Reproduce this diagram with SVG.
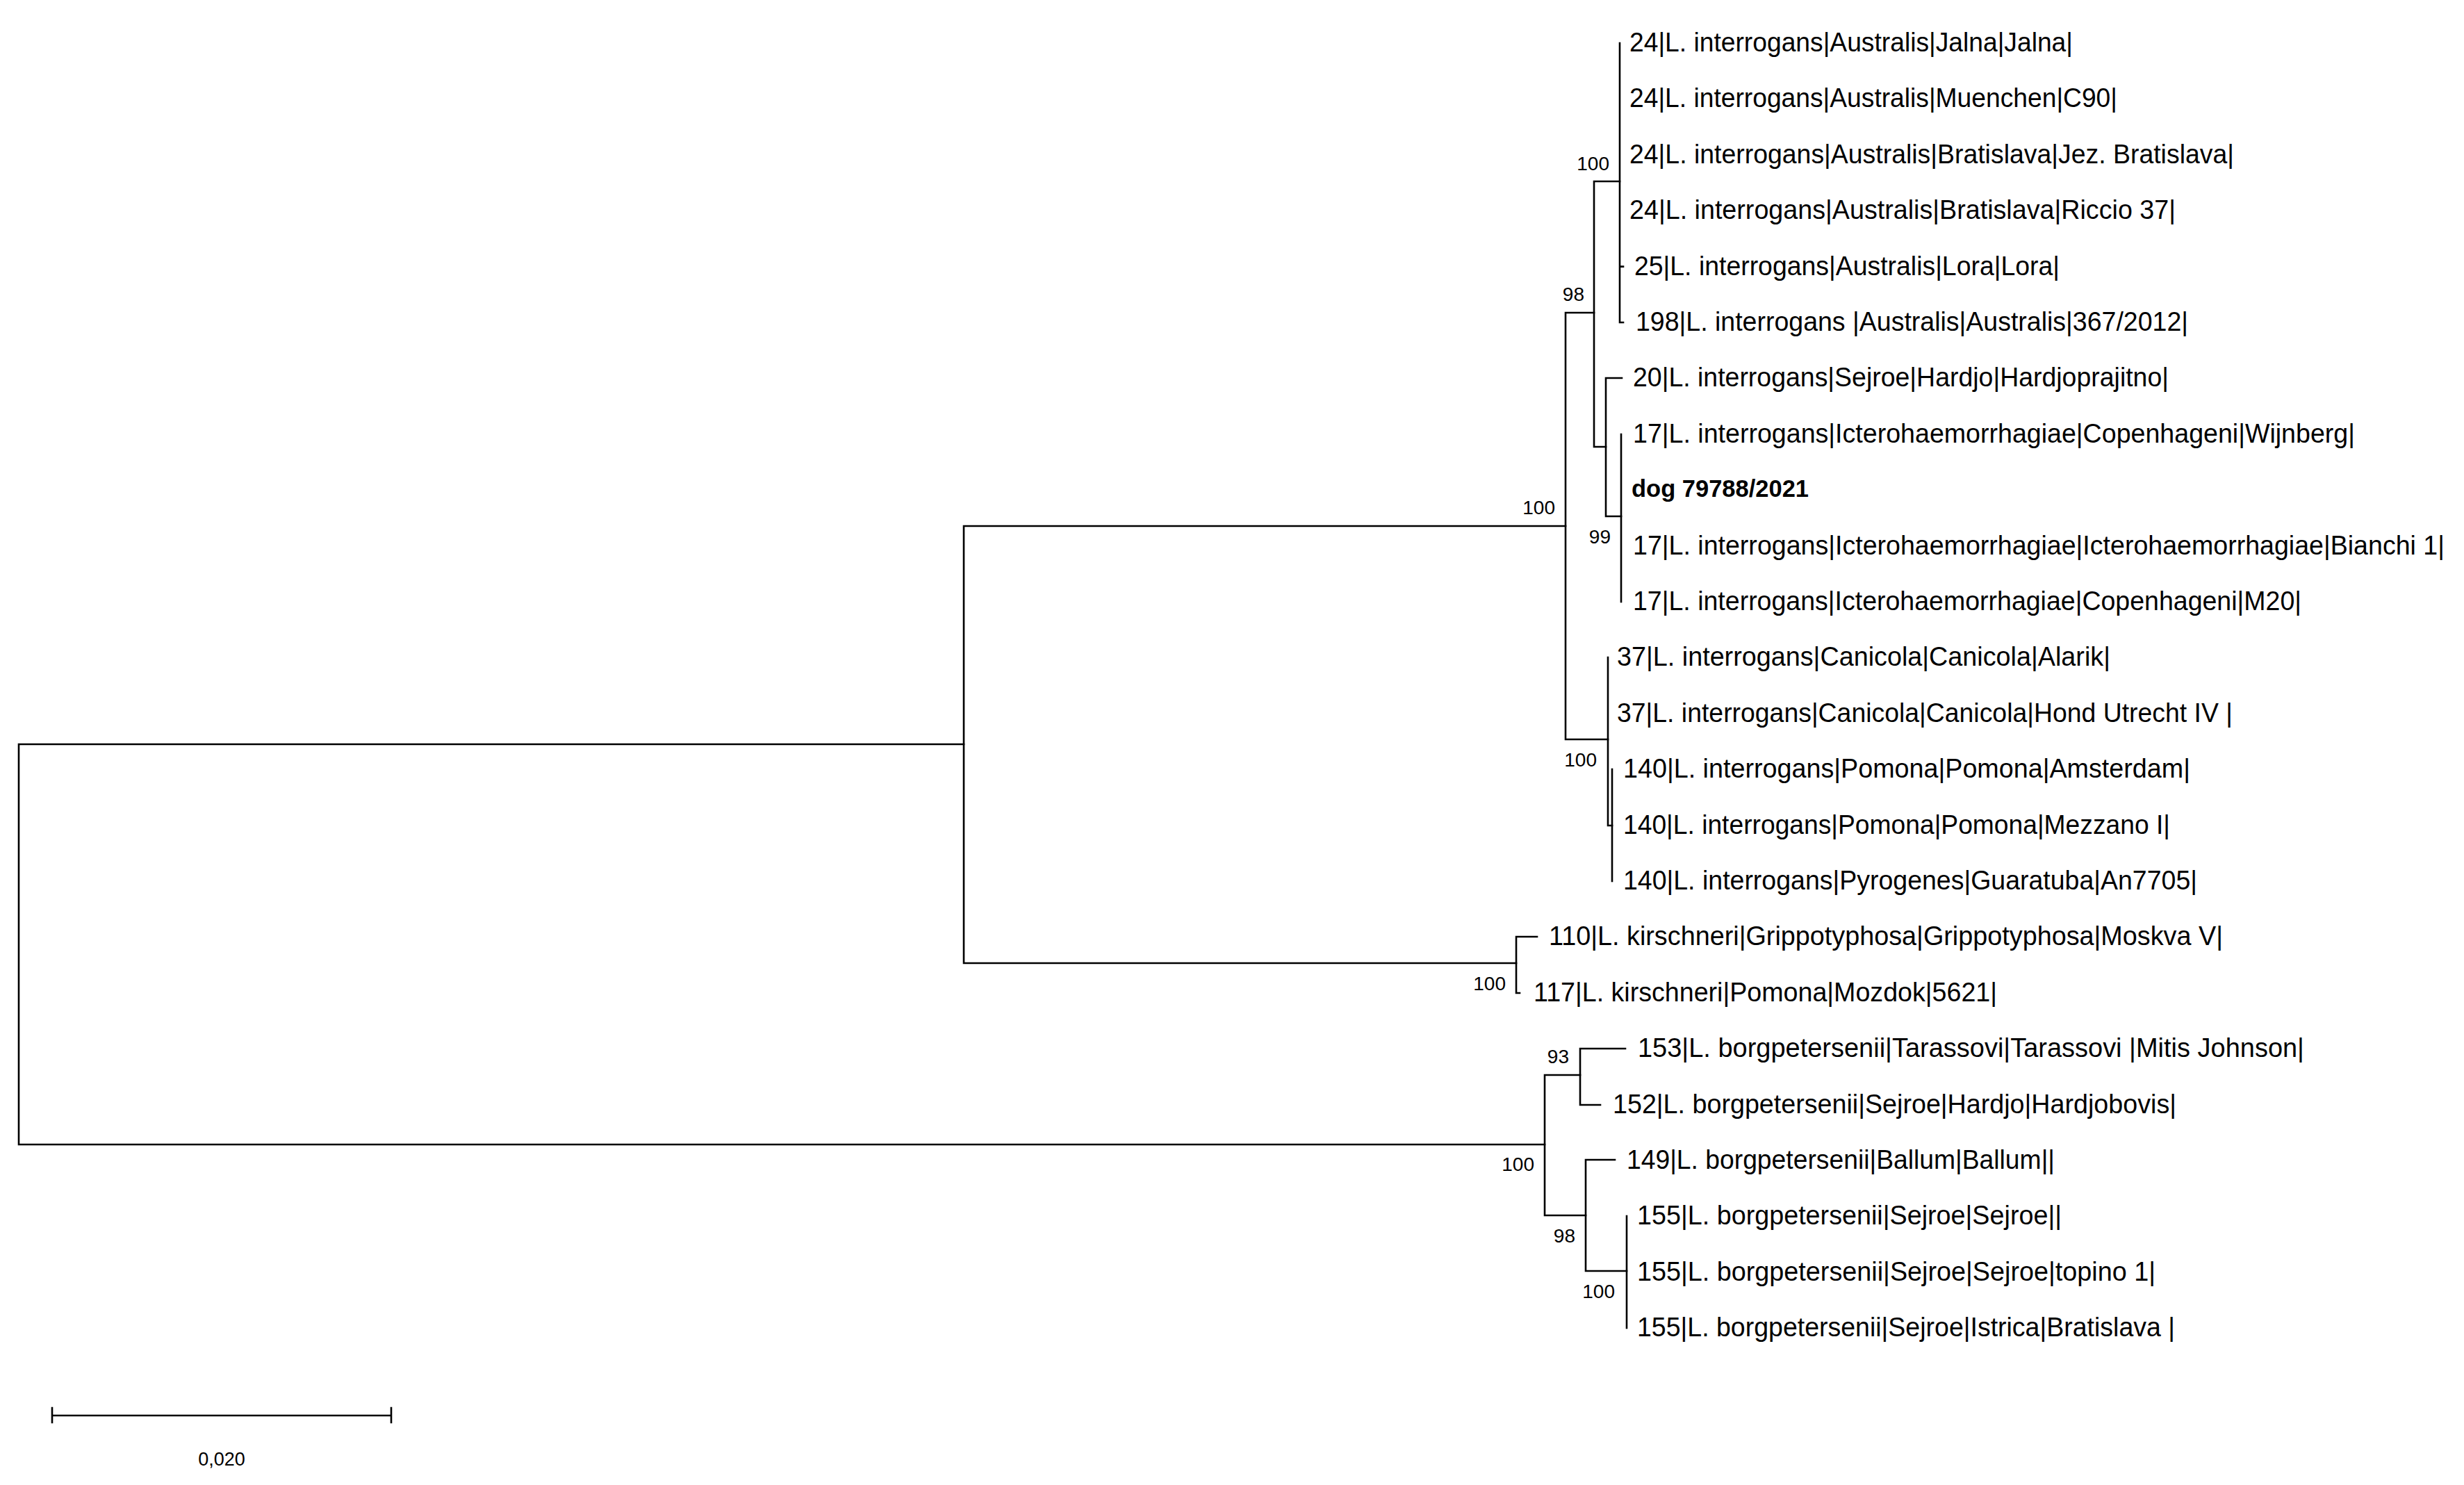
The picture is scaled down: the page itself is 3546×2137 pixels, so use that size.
<svg xmlns="http://www.w3.org/2000/svg" width="3546" height="2137" viewBox="0 0 3546 2137">
<style>
.lbl{font-family:"Liberation Sans",Arial,sans-serif;font-size:38px;fill:#000}
.bold{font-family:"Liberation Sans",Arial,sans-serif;font-size:35px;font-weight:bold;fill:#000}
.bs{font-family:"Liberation Sans",Arial,sans-serif;font-size:28px;fill:#000;text-anchor:end}
.scl{font-family:"Liberation Sans",Arial,sans-serif;font-size:27px;fill:#000;text-anchor:middle}
.br{fill:none;stroke:#000;stroke-width:2.6;stroke-linecap:square}
</style>
<rect width="3546" height="2137" fill="#fff"/>
<g id="connectors">
<path class="br" d="M27,1071 V1647 M27,1071 H1387 M27,1647 H2223"/>
<path class="br" d="M1387,757 V1386 M1387,757 H2253 M1387,1386 H2182"/>
<path class="br" d="M2182,1348 V1429 M2182,1348 H2212 M2182,1429 H2187"/>
<path class="br" d="M2253,450 V1064 M2253,450 H2294 M2253,1064 H2314"/>
<path class="br" d="M2294,261 V643 M2294,261 H2331 M2294,643 H2311"/>
<path class="br" d="M2331,62 V464 M2331,383.6 H2336 M2331,464 H2336"/>
<path class="br" d="M2311,544 V743 M2311,544 H2334 M2311,743 H2333"/>
<path class="br" d="M2333,625 V866"/>
<path class="br" d="M2314,946 V1188 M2314,1188 H2320"/>
<path class="br" d="M2320,1107 V1268"/>
<path class="br" d="M2223,1547 V1749 M2223,1547 H2274 M2223,1749 H2282"/>
<path class="br" d="M2274,1509 V1590 M2274,1509 H2339 M2274,1590 H2303"/>
<path class="br" d="M2282,1669 V1829 M2282,1669 H2324 M2282,1829 H2341"/>
<path class="br" d="M2341,1750 V1911"/>
</g>
<g id="support">
<text class="bs" x="2316" y="245">100</text>
<text class="bs" x="2280" y="433">98</text>
<text class="bs" x="2238" y="740">100</text>
<text class="bs" x="2318" y="782">99</text>
<text class="bs" x="2298" y="1103">100</text>
<text class="bs" x="2167" y="1425">100</text>
<text class="bs" x="2258" y="1530">93</text>
<text class="bs" x="2208" y="1685">100</text>
<text class="bs" x="2267" y="1788">98</text>
<text class="bs" x="2324" y="1868">100</text>
</g>
<g id="leaf1"><text class="lbl" x="2345" y="74" textLength="638" lengthAdjust="spacingAndGlyphs">24|L. interrogans|Australis|Jalna|Jalna|</text></g>
<g id="leaf2"><text class="lbl" x="2345" y="154.4" textLength="702" lengthAdjust="spacingAndGlyphs">24|L. interrogans|Australis|Muenchen|C90|</text></g>
<g id="leaf3"><text class="lbl" x="2345" y="234.8" textLength="870" lengthAdjust="spacingAndGlyphs">24|L. interrogans|Australis|Bratislava|Jez. Bratislava|</text></g>
<g id="leaf4"><text class="lbl" x="2345" y="315.2" textLength="786" lengthAdjust="spacingAndGlyphs">24|L. interrogans|Australis|Bratislava|Riccio 37|</text></g>
<g id="leaf5"><text class="lbl" x="2352" y="395.6" textLength="612" lengthAdjust="spacingAndGlyphs">25|L. interrogans|Australis|Lora|Lora|</text></g>
<g id="leaf6"><text class="lbl" x="2354" y="476" textLength="795" lengthAdjust="spacingAndGlyphs">198|L. interrogans |Australis|Australis|367/2012|</text></g>
<g id="leaf7"><text class="lbl" x="2350" y="556.4" textLength="771" lengthAdjust="spacingAndGlyphs">20|L. interrogans|Sejroe|Hardjo|Hardjoprajitno|</text></g>
<g id="leaf8"><text class="lbl" x="2350" y="636.8" textLength="1039" lengthAdjust="spacingAndGlyphs">17|L. interrogans|Icterohaemorrhagiae|Copenhageni|Wijnberg|</text></g>
<g id="leaf9"><text class="bold" x="2348" y="715" textLength="255" lengthAdjust="spacingAndGlyphs">dog 79788/2021</text></g>
<g id="leaf10"><text class="lbl" x="2350" y="797.6" textLength="1168" lengthAdjust="spacingAndGlyphs">17|L. interrogans|Icterohaemorrhagiae|Icterohaemorrhagiae|Bianchi 1|</text></g>
<g id="leaf11"><text class="lbl" x="2350" y="878" textLength="962" lengthAdjust="spacingAndGlyphs">17|L. interrogans|Icterohaemorrhagiae|Copenhageni|M20|</text></g>
<g id="leaf12"><text class="lbl" x="2327" y="958.4" textLength="710" lengthAdjust="spacingAndGlyphs">37|L. interrogans|Canicola|Canicola|Alarik|</text></g>
<g id="leaf13"><text class="lbl" x="2327" y="1038.8" textLength="886" lengthAdjust="spacingAndGlyphs">37|L. interrogans|Canicola|Canicola|Hond Utrecht IV |</text></g>
<g id="leaf14"><text class="lbl" x="2336" y="1119.2" textLength="816" lengthAdjust="spacingAndGlyphs">140|L. interrogans|Pomona|Pomona|Amsterdam|</text></g>
<g id="leaf15"><text class="lbl" x="2336" y="1199.6" textLength="787" lengthAdjust="spacingAndGlyphs">140|L. interrogans|Pomona|Pomona|Mezzano I|</text></g>
<g id="leaf16"><text class="lbl" x="2336" y="1280" textLength="826" lengthAdjust="spacingAndGlyphs">140|L. interrogans|Pyrogenes|Guaratuba|An7705|</text></g>
<g id="leaf17"><text class="lbl" x="2229" y="1360.4" textLength="970" lengthAdjust="spacingAndGlyphs">110|L. kirschneri|Grippotyphosa|Grippotyphosa|Moskva V|</text></g>
<g id="leaf18"><text class="lbl" x="2207" y="1440.8" textLength="667" lengthAdjust="spacingAndGlyphs">117|L. kirschneri|Pomona|Mozdok|5621|</text></g>
<g id="leaf19"><text class="lbl" x="2357" y="1521.2" textLength="959" lengthAdjust="spacingAndGlyphs">153|L. borgpetersenii|Tarassovi|Tarassovi |Mitis Johnson|</text></g>
<g id="leaf20"><text class="lbl" x="2321" y="1601.6" textLength="811" lengthAdjust="spacingAndGlyphs">152|L. borgpetersenii|Sejroe|Hardjo|Hardjobovis|</text></g>
<g id="leaf21"><text class="lbl" x="2341" y="1682" textLength="616" lengthAdjust="spacingAndGlyphs">149|L. borgpetersenii|Ballum|Ballum||</text></g>
<g id="leaf22"><text class="lbl" x="2356" y="1762.4" textLength="611" lengthAdjust="spacingAndGlyphs">155|L. borgpetersenii|Sejroe|Sejroe||</text></g>
<g id="leaf23"><text class="lbl" x="2356" y="1842.8" textLength="746" lengthAdjust="spacingAndGlyphs">155|L. borgpetersenii|Sejroe|Sejroe|topino 1|</text></g>
<g id="leaf24"><text class="lbl" x="2356" y="1923.2" textLength="774" lengthAdjust="spacingAndGlyphs">155|L. borgpetersenii|Sejroe|Istrica|Bratislava |</text></g>
<g id="scalebar">
<path class="br" d="M75,2037 H563 M75,2026 V2047 M563,2026 V2047"/>
<text class="scl" x="319" y="2109">0,020</text>
</g>
</svg>
